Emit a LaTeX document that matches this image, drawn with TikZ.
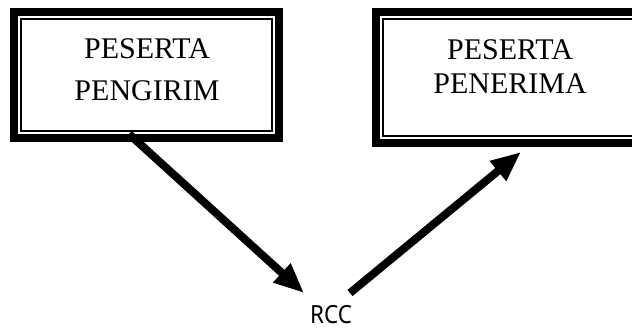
\documentclass[tikz,border=0pt]{standalone}
\usepackage{fontspec}
\setmainfont{Liberation Serif}
\newfontfamily\rccfont{Noto Sans}
\usetikzlibrary{arrows.meta}
\begin{document}
\begin{tikzpicture}[x=1pt,y=1pt,
  box/.style={draw, line width=8pt, inner sep=0pt, outer sep=0pt},
  innerline/.style={draw, line width=1.8pt},
  lbl/.style={inner sep=0pt, align=center, anchor=north},
  conn/.style={line width=8pt, -{Triangle[length=30pt,width=24pt]}}]
\useasboundingbox (0,0) rectangle (632,-334);
% boxes
\node[box, minimum width=265pt, minimum height=126pt] (pengirim) at (146.5,-75) {};
\node[box, minimum width=266pt, minimum height=131pt] (penerima) at (509,-77.5) {};
\draw[innerline] ([xshift=7pt,yshift=-7pt]pengirim.north west) rectangle ([xshift=-7pt,yshift=7pt]pengirim.south east);
\draw[innerline] ([xshift=7pt,yshift=-7pt]penerima.north west) rectangle ([xshift=-7pt,yshift=7pt]penerima.south east);
% texts
\node[lbl, font=\fontsize{30}{41.5}\selectfont] (t1) at (147,-38.5) {PESERTA\\PENGIRIM};
\node[lbl, font=\fontsize{30}{34}\selectfont] (t2) at (510,-39.3) {PESERTA\\PENERIMA};
\node[inner sep=0pt, anchor=north, font=\rccfont\fontsize{25}{28}\selectfont] (rcc) at (331,-305) {\scalebox{0.9}[1]{RCC}};
% connectors
\coordinate (s1) at (129,-134);
\coordinate (e1) at (304,-293);
\coordinate (s2) at (350,-293);
\coordinate (e2) at (521,-152);
\draw[conn] (s1) -- (e1);
\draw[conn] (s2) -- (e2);
\end{tikzpicture}
\end{document}
